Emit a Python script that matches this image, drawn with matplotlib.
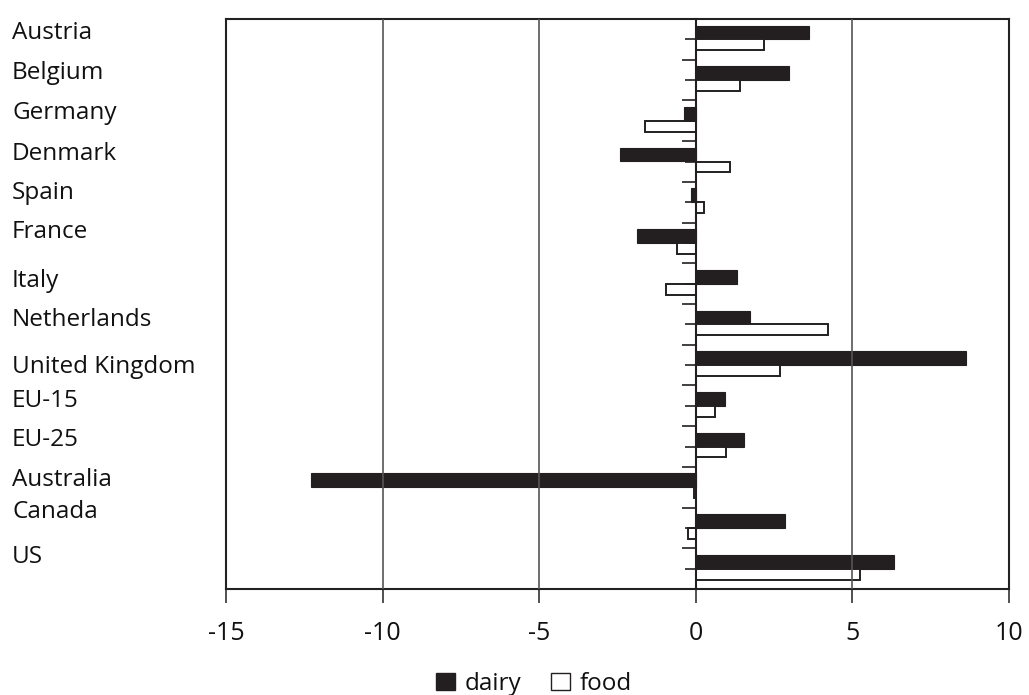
import numpy as np
import matplotlib.pyplot as plt
from matplotlib.patches import Patch

plt.rcParams['font.family'] = ['Open Sans', 'DejaVu Sans']

countries = ['Austria', 'Belgium', 'Germany', 'Denmark', 'Spain', 'France', 'Italy',
             'Netherlands', 'United Kingdom', 'EU-15', 'EU-25', 'Australia', 'Canada', 'US']
dairy = [3.63, 2.97, -0.37, -2.42, -0.14, -1.89, 1.30, 1.72, 8.62, 0.93, 1.53, -12.29, 2.84, 6.34]
food = [2.18, 1.40, -1.62, 1.10, 0.25, -0.60, -0.96, 4.22, 2.68, 0.61, 0.98, -0.06, -0.24, 5.24]

# label positions (pixels from top) as in the original, slightly off the bars
label_y_px = [33, 73, 113, 154, 193, 232, 281, 320, 367, 401, 440, 480, 512, 557]

W, H = 1029, 695
fig = plt.figure(figsize=(W / 100, H / 100), dpi=100)
ax = fig.add_axes([226 / W, 1 - 589 / H, (1009 - 226) / W, (589 - 19) / H])

y = np.arange(len(countries))
h_d, h_f = 0.34, 0.27
dark = '#231f20'
ax.barh(y - h_d / 2, dairy, height=h_d, color=dark, edgecolor=dark, linewidth=0.8, zorder=3)
ax.barh(y + h_f / 2, food, height=h_f, color='white', edgecolor=dark, linewidth=1.4, zorder=3)

ax.set_xlim(-15, 10)
ax.set_ylim(len(countries) - 0.5, -0.5)
ax.set_xticks([-15, -10, -5, 0, 5, 10])
ax.set_xticklabels(['-15', '-10', '-5', '0', '5', '10'], fontsize=18, color='#111111')
ax.tick_params(axis='x', length=10, width=1.2, color='#333333', pad=13)
ax.set_yticks([])
for x in [-10, -5, 5]:
    ax.axvline(x, color='#555555', linewidth=1.2, zorder=4)
for s in ax.spines.values():
    s.set_linewidth(1.5)
    s.set_color('#222222')

# category axis drawn at zero
sec = ax.secondary_yaxis(0.6)
sec.set_alignment('left')
sec.set_yticks(np.arange(len(countries) + 1) - 0.5)
sec.set_yticks(y, minor=True)
sec.tick_params(which='major', length=10, width=1.2, labelleft=False, labelright=False, color=dark)
sec.tick_params(which='minor', length=8, width=1.2, labelleft=False, labelright=False, color=dark)
sec.spines['left'].set_linewidth(1.5)
sec.spines['left'].set_color(dark)
sec.set_zorder(5)

for name, py in zip(countries, label_y_px):
    fig.text(12 / W, 1 - py / H, name, fontsize=17.5, va='center', ha='left', color='#111111')

handles = [Patch(facecolor=dark, edgecolor=dark, label='dairy'),
           Patch(facecolor='white', edgecolor=dark, linewidth=1.0, label='food')]
fig.legend(handles=handles, loc='center', bbox_to_anchor=(534 / W, 1 - 684 / H), ncol=2,
           frameon=False, fontsize=17.5, handlelength=0.8, handleheight=0.65,
           handletextpad=0.4, columnspacing=1.2, borderpad=0, labelcolor='#111111')

fig.savefig('out.png', dpi=100)
